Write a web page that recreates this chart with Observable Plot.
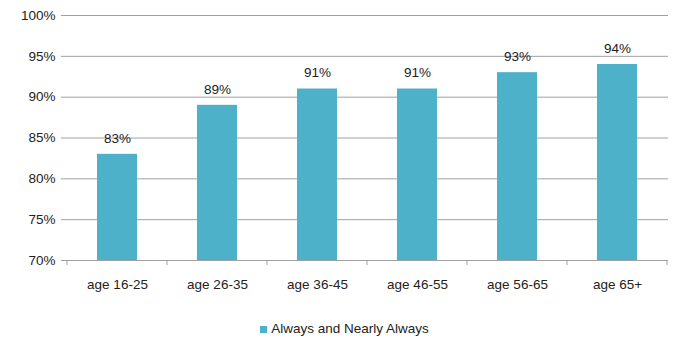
<!DOCTYPE html>
<html>
<head>
<meta charset="utf-8">
<script src="https://cdn.jsdelivr.net/npm/d3@7"></script>
<script src="https://cdn.jsdelivr.net/npm/@observablehq/plot@0.6"></script>
<style>
  body { margin: 0; background: #fff; font-family: "Liberation Sans", Arial, sans-serif; }
  #chart { width: 675px; }
  .legend { display: flex; align-items: center; justify-content: center; gap: 4px;
            font-size: 13.5px; color: #222; margin-top: 21px; padding-left: 14px; line-height: 16px; }
  .legend .sw { width: 7px; height: 7px; background: #4eb1ca; display: inline-block; }
</style>
</head>
<body>
<div id="chart"></div>
<script>
// Share of respondents answering "Always and Nearly Always", by age group
const ageGroups = ["age 16-25", "age 26-35", "age 36-45", "age 46-55", "age 56-65", "age 65+"];
const shares = [0.83, 0.89, 0.91, 0.91, 0.93, 0.94];
const yTicks = [0.70, 0.75, 0.80, 0.85, 0.90, 0.95, 1.00];
const seriesName = "Always and Nearly Always";

const data = ageGroups.map((g, i) => ({ group: g, value: shares[i] }));

const width = 675, height = 300;
const margin = { top: 15, right: 7, bottom: 40, left: 66 };
const pct = d3.format(".0%");
const barColor = "#4eb1ca";
const lineColor = "#a0a0a0";
const font = "Liberation Sans, Arial, sans-serif";

const plot = Plot.plot({
  width, height,
  marginTop: margin.top, marginRight: margin.right,
  marginBottom: margin.bottom, marginLeft: margin.left,
  style: { fontFamily: font, fontSize: "13.5px", color: "#222", background: "#fff" },
  // inner padding 0.6 with half of it outside, so band edges meet the frame
  x: { domain: ageGroups, paddingInner: 0.6, paddingOuter: 0.3, label: null },
  y: { domain: [0.70, 1.00], label: null },
  marks: [
    Plot.gridY(yTicks, { stroke: lineColor, strokeOpacity: 1 }),
    Plot.ruleX([0], { frameAnchor: "left", stroke: lineColor }),
    Plot.ruleY([0.70], { stroke: lineColor }),
    Plot.axisY(yTicks, { tickFormat: pct, tickSize: 5, tickPadding: 6, stroke: lineColor, fontSize: 13.5, fill: "#222" }),
    Plot.axisX({ tickSize: 0, tickPadding: 19, fontSize: 13.5, fill: "#222" }),
    Plot.barY(data, { x: "group", y1: 0.70, y2: "value", fill: barColor }),
    Plot.text(data, { x: "group", y: "value", text: d => pct(d.value), dy: -16, fontSize: 13.5, fill: "#222" })
  ]
});

document.getElementById("chart").append(plot);

// short ticks below the baseline at the edges between categories
const xs = plot.scale("x");
const ys = plot.scale("y");
const step = xs.step;
const yBase = ys.apply(0.70);
const edges = ageGroups.map(g => xs.apply(g) + xs.bandwidth / 2 - step / 2);
edges.push(edges[edges.length - 1] + step);
const svg = d3.select(plot);
svg.selectAll("line.edge").data(edges).join("line")
  .attr("class", "edge")
  .attr("x1", d => d).attr("x2", d => d)
  .attr("y1", yBase).attr("y2", yBase + 5)
  .attr("stroke", lineColor);

const legend = document.createElement("div");
legend.className = "legend";
legend.innerHTML = `<span class="sw"></span><span>${seriesName}</span>`;
document.getElementById("chart").append(legend);
</script>
</body>
</html>
